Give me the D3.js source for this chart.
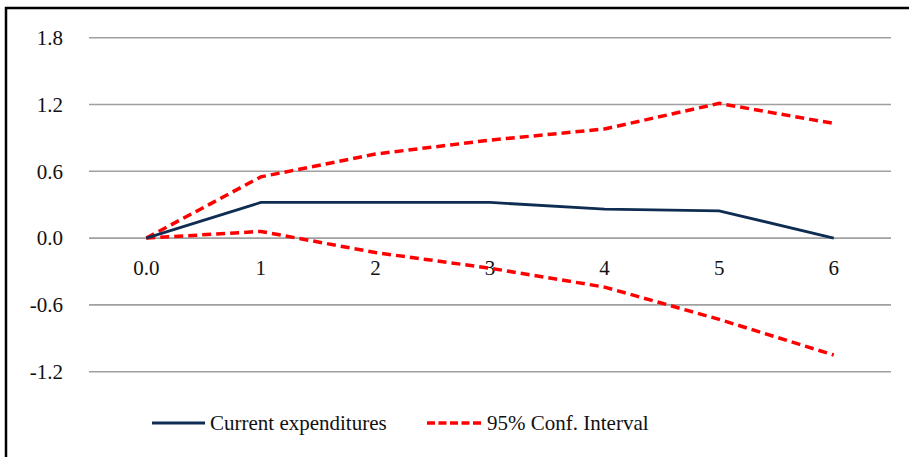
<!DOCTYPE html>
<html><head><meta charset="utf-8">
<script src="https://cdn.jsdelivr.net/npm/d3@7"></script>
<style>body{margin:0;background:#fff;} svg{display:block;}</style>
</head><body>
<svg id="c" width="909" height="457"></svg>
<script>
const categories = ["0.0","1","2","3","4","5","6"];
const currentExp = [0, 0.32, 0.32, 0.32, 0.26, 0.245, 0.0];
const ciUpper = [0, 0.55, 0.755, 0.88, 0.98, 1.21, 1.03];
const ciLower = [0, 0.06, -0.13, -0.27, -0.44, -0.73, -1.05];
const yTicks = [-1.2, -0.6, 0.0, 0.6, 1.2, 1.8];
const legendLabels = ["Current expenditures", "95% Conf. Interval"];

const svg = d3.select("#c");
const font = "Liberation Serif, Times New Roman, serif";
const L = 89, R = 891, T = 37.7, B = 371.7;

svg.append("rect").attr("x",6).attr("y",8).attr("width",920).attr("height",470)
  .attr("fill","#fff").attr("stroke","#000").attr("stroke-width",2.5);

const x = d3.scaleBand().domain(categories).range([L, R]);
const y = d3.scaleLinear().domain([-1.2, 1.8]).range([B, T]);

// gridlines
svg.append("g").selectAll("line").data(yTicks).join("line")
  .attr("x1", L).attr("x2", R)
  .attr("y1", d => y(d)).attr("y2", d => y(d))
  .attr("stroke", "#a0a0a0").attr("stroke-width", 1.6);

// y axis labels
const yAxis = d3.axisLeft(y).tickValues(yTicks).tickFormat(d3.format(".1f")).tickSize(0).tickPadding(0);
const gy = svg.append("g").attr("transform", `translate(63,0)`).call(yAxis);
gy.attr("font-family", font);
gy.select(".domain").remove();
gy.selectAll("text").attr("font-family", font).attr("font-size", 21).attr("fill", "#111")
  .text(d => d < 0 ? "-" + Math.abs(d).toFixed(1) : d.toFixed(1));

// x axis labels
const xAxis = d3.axisBottom(x).tickSize(0).tickPadding(0);
const gx = svg.append("g").attr("transform", `translate(0,${y(0)+22})`).call(xAxis);
gx.attr("font-family", font);
gx.select(".domain").remove();
gx.selectAll("text").attr("font-family", font).attr("font-size", 21).attr("fill", "#111");

const line = d3.line().x((d,i) => x(categories[i]) + x.bandwidth()/2).y(d => y(d));

svg.append("path").datum(ciUpper).attr("d", line).attr("fill","none")
  .attr("stroke","#ff0000").attr("stroke-width",3.5).attr("stroke-dasharray","9,5");
svg.append("path").datum(ciLower).attr("d", line).attr("fill","none")
  .attr("stroke","#ff0000").attr("stroke-width",3.5).attr("stroke-dasharray","9,5");
svg.append("path").datum(currentExp).attr("d", line).attr("fill","none")
  .attr("stroke","#0f2d52").attr("stroke-width",2.8);

// legend
const lg = svg.append("g");
lg.append("line").attr("x1",152).attr("x2",205).attr("y1",423).attr("y2",423)
  .attr("stroke","#0f2d52").attr("stroke-width",2.8);
lg.append("text").attr("x",210).attr("y",430).attr("font-family",font).attr("font-size",21)
  .attr("fill","#111").text(legendLabels[0]);
lg.append("line").attr("x1",427).attr("x2",482).attr("y1",423).attr("y2",423)
  .attr("stroke","#ff0000").attr("stroke-width",3.5).attr("stroke-dasharray","8,3.5");
lg.append("text").attr("x",487).attr("y",430).attr("font-family",font).attr("font-size",21)
  .attr("fill","#111").text(legendLabels[1]);
</script>
</body></html>
